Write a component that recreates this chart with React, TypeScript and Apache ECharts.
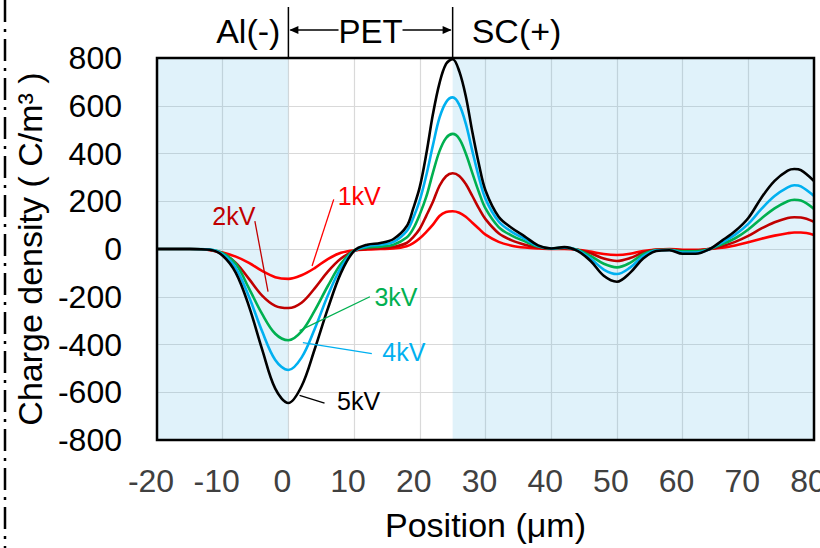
import React, { useEffect, useRef } from "react";
import * as echarts from "echarts";

const positions = [-20, -15, -12, -10, -8, -6, -4, -2, 0, 2, 4, 6, 8, 10, 12, 14, 16, 18, 19, 20, 21, 22, 23, 24, 25, 26, 27, 28, 29, 30, 32, 34, 36, 38, 40, 42, 44, 46, 48, 50, 52, 54, 56, 58, 60, 62, 64, 66, 68, 70, 72, 74, 76, 77, 78, 80];

const kv1 = [0, 0, -4, -15, -32, -58, -92, -118, -125, -110, -80, -42, -16, -5, -2, 0, 2, 12, 25, 45, 72, 102, 138, 155, 158, 152, 135, 110, 85, 60, 30, 14, 6, 2, 0, 0, -3, -11, -21, -25, -20, -8, -2, 0, -3, -3, 0, 5, 15, 28, 43, 56, 66, 69, 69, 59];
const kv2 = [0, 0, -4, -20, -58, -125, -195, -238, -247, -225, -165, -95, -40, -8, 0, 3, 8, 25, 50, 85, 140, 198, 265, 305, 317, 306, 272, 222, 170, 125, 66, 36, 18, 6, 1, 2, -3, -18, -40, -50, -38, -15, -3, -2, -6, -6, 0, 12, 30, 55, 86, 112, 130, 133, 132, 114];
const kv3 = [0, 0, -2, -17, -62, -165, -272, -355, -382, -345, -258, -155, -62, -6, 6, 10, 18, 48, 85, 145, 220, 320, 410, 465, 482, 462, 400, 318, 238, 170, 92, 56, 32, 10, 2, 5, -3, -29, -62, -77, -58, -22, -4, -3, -10, -10, -1, 20, 45, 82, 128, 170, 200, 206, 203, 168];
const kv4 = [0, 0, -2, -22, -80, -200, -345, -465, -507, -455, -335, -195, -78, -8, 12, 18, 30, 75, 130, 205, 310, 435, 550, 615, 635, 605, 525, 410, 300, 210, 115, 72, 42, 12, 2, 7, -5, -40, -86, -105, -78, -30, -6, -4, -15, -15, -2, 28, 60, 105, 168, 222, 258, 267, 262, 222];
const kv5 = [0, 0, -3, -28, -100, -240, -420, -585, -645, -575, -420, -250, -100, -8, 18, 25, 42, 95, 170, 260, 400, 565, 695, 775, 795, 745, 640, 490, 355, 245, 135, 88, 52, 15, 2, 8, -8, -50, -112, -137, -100, -40, -8, -5, -20, -20, -2, 35, 75, 130, 215, 285, 328, 335, 330, 285];

const seriesValues = [kv1, kv2, kv3, kv4, kv5];
const seriesNames = ["1kV", "2kV", "3kV", "4kV", "5kV"];
const seriesColors = ["#FF0000", "#C00000", "#00B050", "#00B0F0", "#000000"];

// interface positions (μm) and layer names
const interfaces = [0, 25];
const layerNames = ["Al(-)", "PET", "SC(+)"];
const shadedRanges = [[-20, 0], [25, 80]];

// leader lines (data coordinates) and label anchors
const leaderFrom = [[6.9, 208], [-5.1, 117], [12.4, -200], [12.7, -438], [5.5, -646]];
const leaderTo = [[3.6, -71], [-3.1, -179], [1.7, -342], [2.2, -392], [1.7, -613]];
const labelAnchor = [[7.5, 221], [-8.3, 138], [13.1, -200], [14.3, -430], [7.4, -638]];
const labelAlign = ["left", "center", "left", "left", "left"];

const FONT = '"Liberation Sans", Arial, sans-serif';

export default function App() {
  const ref = useRef<HTMLDivElement>(null);
  useEffect(() => {
    if (!ref.current) return;
    const chart = echarts.init(ref.current, null, { renderer: "svg" });
    const lineSeries = seriesValues.map((vals, i) => ({
      name: seriesNames[i],
      type: "line",
      data: positions.map((x, j) => [x, vals[j]]),
      smooth: 0.35,
      symbol: "none",
      silent: true,
      z: 2 + i * 0.01,
      lineStyle: { color: seriesColors[i], width: 2.6 },
      markArea:
        i === 0
          ? {
              silent: true,
              itemStyle: { color: "rgba(100,190,230,0.2)" },
              data: shadedRanges.map((r) => [{ xAxis: r[0] }, { xAxis: r[1] }]),
            }
          : undefined,
    }));
    const leaderSeries = seriesNames.map((n, i) => ({
      name: n + "-leader",
      type: "line",
      data: [leaderFrom[i], leaderTo[i]],
      symbol: "none",
      silent: true,
      z: 3,
      lineStyle: { color: seriesColors[i], width: 1.3 },
    }));
    chart.setOption({
      animation: false,
      grid: { left: 157, right: 6, top: 58, bottom: 108, outerBoundsMode: "none", containLabel: false },
      xAxis: {
        type: "value",
        min: -20,
        max: 80,
        interval: 10,
        axisLine: { show: false },
        axisTick: { show: false },
        splitLine: { show: true, lineStyle: { color: "#D9D9D9", width: 1.2 } },
        axisLabel: { fontSize: 32, color: "#404040", margin: 25, fontFamily: FONT, padding: [0, 12, 0, 0] },
        name: "Position (μm)",
        nameLocation: "middle",
        nameGap: 68,
        nameTextStyle: { fontSize: 34, color: "#000", fontFamily: FONT },
      },
      yAxis: {
        type: "value",
        min: -800,
        max: 800,
        interval: 200,
        axisLine: { show: false },
        axisTick: { show: false },
        splitLine: { show: true, lineStyle: { color: "#D9D9D9", width: 1.2 } },
        axisLabel: { fontSize: 32, color: "#000", margin: 35, fontFamily: FONT },
        name: "Charge density ( C/m³ )",
        nameLocation: "middle",
        nameGap: 103,
        nameTextStyle: { fontSize: 34, color: "#000", fontFamily: FONT },
      },
      series: [...lineSeries, ...leaderSeries],
    });

    const p = (x: number, y: number) => chart.convertToPixel({ gridIndex: 0 }, [x, y]) as number[];
    const tl = p(-20, 800);
    const br = p(80, -800);
    const x0 = p(interfaces[0], 0)[0];
    const x1 = p(interfaces[1], 0)[0];
    const topY = 30;
    const petW = 64;
    const petL = (x0 + x1) / 2 - petW / 2;
    const petR = (x0 + x1) / 2 + petW / 2;

    const graphics: any[] = [
      {
        type: "rect",
        shape: { x: tl[0], y: tl[1], width: br[0] - tl[0], height: br[1] - tl[1] },
        style: { fill: "none", stroke: "#000", lineWidth: 2.5 },
        z: 100,
        silent: true,
      },
      {
        type: "line",
        shape: { x1: 5, y1: 0, x2: 5, y2: 548 },
        style: { stroke: "#000", lineWidth: 2.5, lineDash: [22, 7, 3, 7] },
        z: 100,
        silent: true,
      },
      ...[x0, x1].map((x) => ({
        type: "line",
        shape: { x1: x, y1: 7, x2: x, y2: tl[1] },
        style: { stroke: "#000", lineWidth: 1.5 },
        z: 100,
        silent: true,
      })),
      {
        type: "line",
        shape: { x1: x0 + 2, y1: topY, x2: petL, y2: topY },
        style: { stroke: "#000", lineWidth: 1.5 },
        z: 100,
      },
      {
        type: "polygon",
        shape: { points: [[x0 + 1, topY], [x0 + 10, topY - 4], [x0 + 10, topY + 4]] },
        style: { fill: "#000" },
        z: 100,
      },
      {
        type: "line",
        shape: { x1: petR, y1: topY, x2: x1 - 2, y2: topY },
        style: { stroke: "#000", lineWidth: 1.5 },
        z: 100,
      },
      {
        type: "polygon",
        shape: { points: [[x1 - 1, topY], [x1 - 10, topY - 4], [x1 - 10, topY + 4]] },
        style: { fill: "#000" },
        z: 100,
      },
      {
        type: "text",
        x: x0 - 8,
        y: 31,
        style: { text: layerNames[0], fontSize: 34, fontFamily: FONT, fill: "#000", align: "right", verticalAlign: "middle" },
        z: 100,
      },
      {
        type: "text",
        x: (x0 + x1) / 2,
        y: 31,
        style: { text: layerNames[1], fontSize: 33, fontFamily: FONT, fill: "#000", align: "center", verticalAlign: "middle" },
        z: 100,
      },
      {
        type: "text",
        x: x1 + 19,
        y: 31,
        style: { text: layerNames[2], fontSize: 34, fontFamily: FONT, fill: "#000", align: "left", verticalAlign: "middle" },
        z: 100,
      },
      ...seriesNames.map((n, i) => {
        const pt = p(labelAnchor[i][0], labelAnchor[i][1]);
        return {
          type: "text",
          x: pt[0],
          y: pt[1],
          style: {
            text: n,
            fontSize: 25,
            fontFamily: FONT,
            fill: seriesColors[i],
            align: labelAlign[i],
            verticalAlign: "middle",
          },
          z: 100,
        };
      }),
    ];
    chart.setOption({ graphic: graphics });
    return () => chart.dispose();
  }, []);
  return <div ref={ref} style={{ width: 820, height: 548, position: "absolute", left: 0, top: 0 }} />;
}
